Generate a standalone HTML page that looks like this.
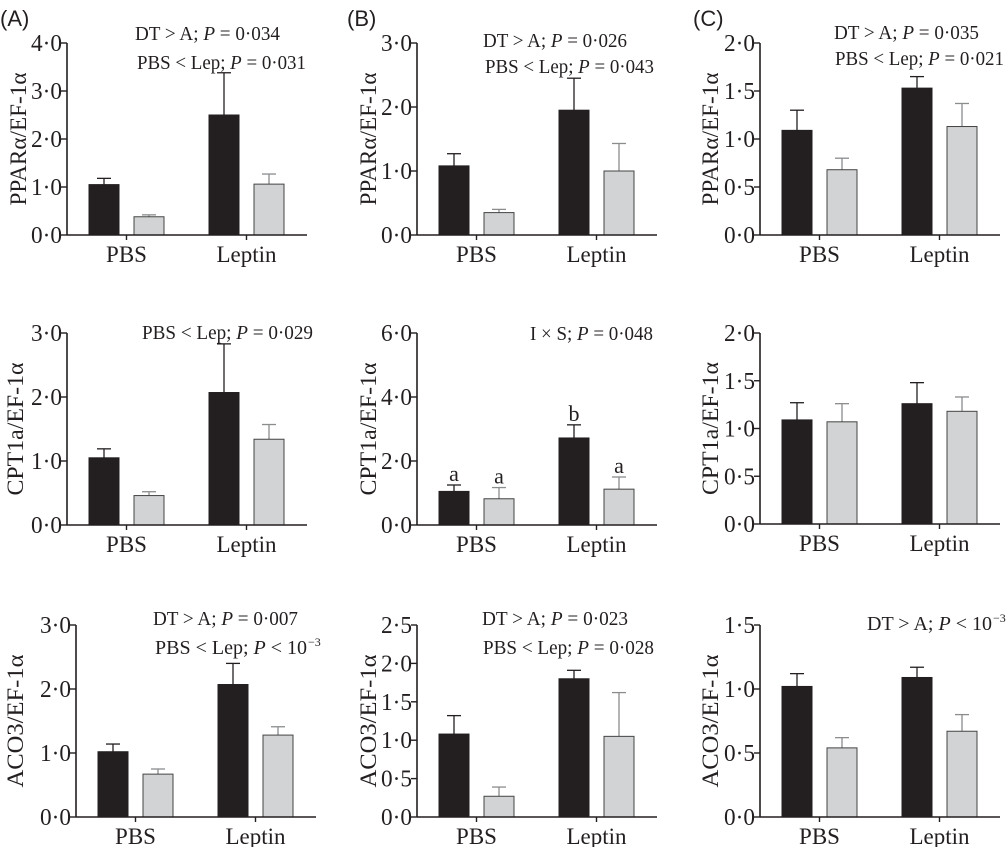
<!DOCTYPE html>
<html><head><meta charset="utf-8"><style>
html,body{margin:0;padding:0;background:#fff;}
svg{display:block;}
text{font-family:"Liberation Serif",serif;fill:#231f20;}
.lab{font-family:"Liberation Sans",sans-serif;}
</style></head><body>
<svg id="fig" width="1007" height="847" viewBox="0 0 1007 847" xmlns="http://www.w3.org/2000/svg"></svg>
<script>
// Bar order: PBS-DT (black), PBS-A (grey), Leptin-DT (black), Leptin-A (grey)
const groups = ["PBS", "Leptin"];
const pparA_mean = [1.05, 0.38, 2.50, 1.06];
const pparA_upper = [1.18, 0.42, 3.38, 1.27];
const pparB_mean = [1.08, 0.35, 1.95, 1.00];
const pparB_upper = [1.27, 0.40, 2.45, 1.43];
const pparC_mean = [1.09, 0.68, 1.53, 1.13];
const pparC_upper = [1.30, 0.80, 1.65, 1.37];
const cptA_mean = [1.05, 0.46, 2.07, 1.34];
const cptA_upper = [1.19, 0.52, 2.83, 1.57];
const cptB_mean = [1.05, 0.82, 2.72, 1.12];
const cptB_upper = [1.25, 1.17, 3.13, 1.50];
const cptB_letters = ["a", "a", "b", "a"];
const cptC_mean = [1.09, 1.07, 1.26, 1.18];
const cptC_upper = [1.27, 1.26, 1.48, 1.33];
const acoA_mean = [1.02, 0.67, 2.07, 1.28];
const acoA_upper = [1.14, 0.75, 2.40, 1.41];
const acoB_mean = [1.08, 0.27, 1.80, 1.05];
const acoB_upper = [1.32, 0.39, 1.91, 1.62];
const acoC_mean = [1.02, 0.54, 1.09, 0.67];
const acoC_upper = [1.12, 0.62, 1.17, 0.80];
const ticks4 = [0, 1, 2, 3, 4];
const ticks3 = [0, 1, 2, 3];
const ticks6 = [0, 2, 4, 6];
const ticks2 = [0, 0.5, 1, 1.5, 2];
const ticks25 = [0, 0.5, 1, 1.5, 2, 2.5];
const ticks15 = [0, 0.5, 1, 1.5];

const NS = "http://www.w3.org/2000/svg";
const svg = document.getElementById("fig");
function mk(tag, attrs, parent) {
  const e = document.createElementNS(NS, tag);
  for (const k in attrs) e.setAttribute(k, attrs[k]);
  (parent || svg).appendChild(e);
  return e;
}
function fmt(v) { return v.toFixed(1).replace(".", "\u00B7"); }

const panels = [
  {id:"ppar-a", ax:67, top:43, bot:235, ticks:ticks4, mean:pparA_mean, up:pparA_upper, title:"PPAR\u03B1/EF-1\u03B1", tx:18,
   notes:[["DT > A; ","P"," = 0\u00B7034",135,280,33],["PBS < Lep; ","P"," = 0\u00B7031",137,306,62]]},
  {id:"ppar-b", ax:417, top:43, bot:235, ticks:ticks3, mean:pparB_mean, up:pparB_upper, title:"PPAR\u03B1/EF-1\u03B1", tx:368,
   notes:[["DT > A; ","P"," = 0\u00B7026",483,627,40],["PBS < Lep; ","P"," = 0\u00B7043",485,654,66]]},
  {id:"ppar-c", ax:760, top:43, bot:235, ticks:ticks2, mean:pparC_mean, up:pparC_upper, title:"PPAR\u03B1/EF-1\u03B1", tx:710,
   notes:[["DT > A; ","P"," = 0\u00B7035",834,979,32],["PBS < Lep; ","P"," = 0\u00B7021",835,1004,58]]},
  {id:"cpt-a", ax:67, top:333, bot:525, ticks:ticks3, mean:cptA_mean, up:cptA_upper, title:"CPT1a/EF-1\u03B1", tx:15,
   notes:[["PBS < Lep; ","P"," = 0\u00B7029",142,313,332]]},
  {id:"cpt-b", ax:417, top:333, bot:525, ticks:ticks6, mean:cptB_mean, up:cptB_upper, title:"CPT1a/EF-1\u03B1", tx:368, letters:cptB_letters,
   notes:[["I \u00D7 S; ","P"," = 0\u00B7048",530,653,333]]},
  {id:"cpt-c", ax:760, top:333, bot:524, ticks:ticks2, mean:cptC_mean, up:cptC_upper, title:"CPT1a/EF-1\u03B1", tx:710, notes:[]},
  {id:"aco-a", ax:76, top:625, bot:817, ticks:ticks3, mean:acoA_mean, up:acoA_upper, title:"ACO3/EF-1\u03B1", tx:15,
   notes:[["DT > A; ","P"," = 0\u00B7007",153,298,618],["PBS < Lep; ","P"," < 10",155,307,647,"\u22123"]]},
  {id:"aco-b", ax:417, top:625, bot:817, ticks:ticks25, mean:acoB_mean, up:acoB_upper, title:"ACO3/EF-1\u03B1", tx:368,
   notes:[["DT > A; ","P"," = 0\u00B7023",482,628,618],["PBS < Lep; ","P"," = 0\u00B7028",483,654,647]]},
  {id:"aco-c", ax:760, top:625, bot:817, ticks:ticks15, mean:acoC_mean, up:acoC_upper, title:"ACO3/EF-1\u03B1", tx:710,
   notes:[["DT > A; ","P"," < 10",867,992,623,"\u22123"]]}
];

const barOff = [22, 67, 142, 187];
const barW = 30;
const groupOff = [59.5, 179.5];

panels.forEach(p => {
  const g = mk("g", {});
  
  
  const maxV = p.ticks[p.ticks.length - 1];
  const y = v => p.bot - (v / maxV) * (p.bot - p.top);
  const x = i => p.ax + barOff[i];
  p.mean.forEach((m, i) => {
    const black = i % 2 === 0;
    const cx = x(i) + barW / 2;
    const el = mk("line", {x1:cx, x2:cx, y1:y(m), y2:y(p.up[i]), stroke: black ? "#231f20" : "#8a8c8e", "stroke-width":1.3}, g);
    
    
    const cap = mk("line", {x1:cx - 7, x2:cx + 7, y1:y(p.up[i]), y2:y(p.up[i]), stroke: black ? "#231f20" : "#8a8c8e", "stroke-width":1.3}, g);
    
    
    const r = mk("rect", {x:x(i), y:y(m), width:barW, height:p.bot - y(m), fill: black ? "#231f20" : "#d1d3d4", stroke: black ? "#231f20" : "#444", "stroke-width":1}, g);
    
    
    if (p.letters) {
      const t = mk("text", {x:cx, y:y(p.up[i]) - 4, "text-anchor":"middle", "font-size":22}, g);
      t.textContent = p.letters[i];
      
      
    }
  });
  const ya = mk("line", {x1:p.ax, x2:p.ax, y1:p.top, y2:p.bot, stroke:"#231f20", "stroke-width":1.6}, g);
  
  
  const xa = mk("line", {x1:p.ax, x2:p.ax + 240, y1:p.bot, y2:p.bot, stroke:"#231f20", "stroke-width":1.6}, g);
  
  
  p.ticks.forEach(t => {
    mk("line", {x1:p.ax - 6, x2:p.ax, y1:y(t), y2:y(t), stroke:"#231f20", "stroke-width":1.4}, g);
    const tl = mk("text", {x:p.ax - 5, y:y(t) + 8, "text-anchor":"end", "font-size":24, textLength:31, lengthAdjust:"spacingAndGlyphs"}, g);
    tl.textContent = fmt(t);
    
    
  });
  groups.forEach((gr, k) => {
    const gx = p.ax + groupOff[k];
    mk("line", {x1:gx, x2:gx, y1:p.bot, y2:p.bot + 5, stroke:"#231f20", "stroke-width":1.4}, g);
    const xl = mk("text", {x:gx, y:p.bot + 27, "text-anchor":"middle", "font-size":23}, g);
    xl.textContent = gr;
    
    
  });
  const cy = (p.top + p.bot) / 2;
  const tt = mk("text", {x:0, y:0, "text-anchor":"middle", "font-size":23, textLength:133, lengthAdjust:"spacingAndGlyphs", transform:`translate(${p.tx + 8},${cy}) rotate(-90)`}, g);
  tt.textContent = p.title;
  
  
  p.notes.forEach(n => {
    const t = mk("text", {x:n[3], y:n[5] + 7, "font-size":20, textLength:(n[4] - n[3]), lengthAdjust:"spacingAndGlyphs"}, g);
    
    
    const s1 = mk("tspan", {}, t); s1.textContent = n[0];
    const s2 = mk("tspan", {"font-style":"italic"}, t); s2.textContent = n[1];
    const s3 = mk("tspan", {}, t); s3.textContent = n[2];
    if (n[6]) {
      const s4 = mk("text", {x:n[4] + 1, y:n[5] - 1, "font-size":12}, g);
      s4.textContent = n[6];
    }
  });
});

[["(A)", 0], ["(B)", 347], ["(C)", 693]].forEach(l => {
  const t = mk("text", {x:l[1], y:26, "font-size":22, class:"lab"});
  t.textContent = l[0];
  
  
});
</script>
</body></html>
